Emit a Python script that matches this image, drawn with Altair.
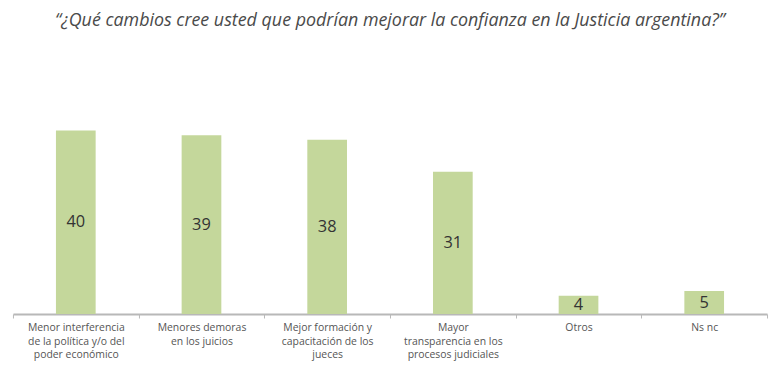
import altair as alt
import pandas as pd

categories = [
    "Menor interferencia|de la política y/o del|poder económico",
    "Menores demoras|en los juicios",
    "Mejor formación y|capacitación de los|jueces",
    "Mayor|transparencia en los|procesos judiciales",
    "Otros",
    "Ns nc",
]
values = [40, 39, 38, 31, 4, 5]
title_text = "“¿Qué cambios cree usted que podrían mejorar la confianza en la Justicia argentina?”"

df = pd.DataFrame({"cat": categories, "value": values})

x = alt.X("cat:N", sort=categories, title=None,
          scale=alt.Scale(paddingInner=0, paddingOuter=0),
          axis=alt.Axis(labelExpr="split(datum.label, '|')", labelAngle=0,
                        labelFont="Open Sans", labelFontSize=10.5, labelColor="#555",
                        labelLineHeight=13.5, labelPadding=5, labelLimit=140,
                        domainColor="#b8b8b8", domainWidth=2,
                        tickBand="extent", tickColor="#b8b8b8", tickSize=4, tickWidth=1))
y = alt.Y("value:Q", scale=alt.Scale(domain=[0, 45]), axis=None)

bars = alt.Chart(df).mark_bar(size=40, color="#c4d79b").encode(x=x, y=y)
labels = alt.Chart(df).transform_calculate(mid="datum.value / 2").mark_text(
    font="Open Sans", fontSize=16.5, color="#333333", baseline="middle"
).encode(x=alt.X("cat:N", sort=categories), y=alt.Y("mid:Q", scale=alt.Scale(domain=[0, 45])),
         text="value:Q")

chart = (bars + labels).properties(
    width=760, height=208,
    title=alt.TitleParams(title_text, font="Open Sans", fontSize=18, fontStyle="italic",
                          fontWeight="normal", color="#4a4a4a", anchor="middle", offset=78),
    padding={"left": 5, "top": 99, "right": 5, "bottom": 60},
    autosize=alt.AutoSizeParams(type="none"),
    background="white",
).configure_view(stroke=None)

chart.save("out.html", embed_options={"renderer": "svg", "actions": False})
